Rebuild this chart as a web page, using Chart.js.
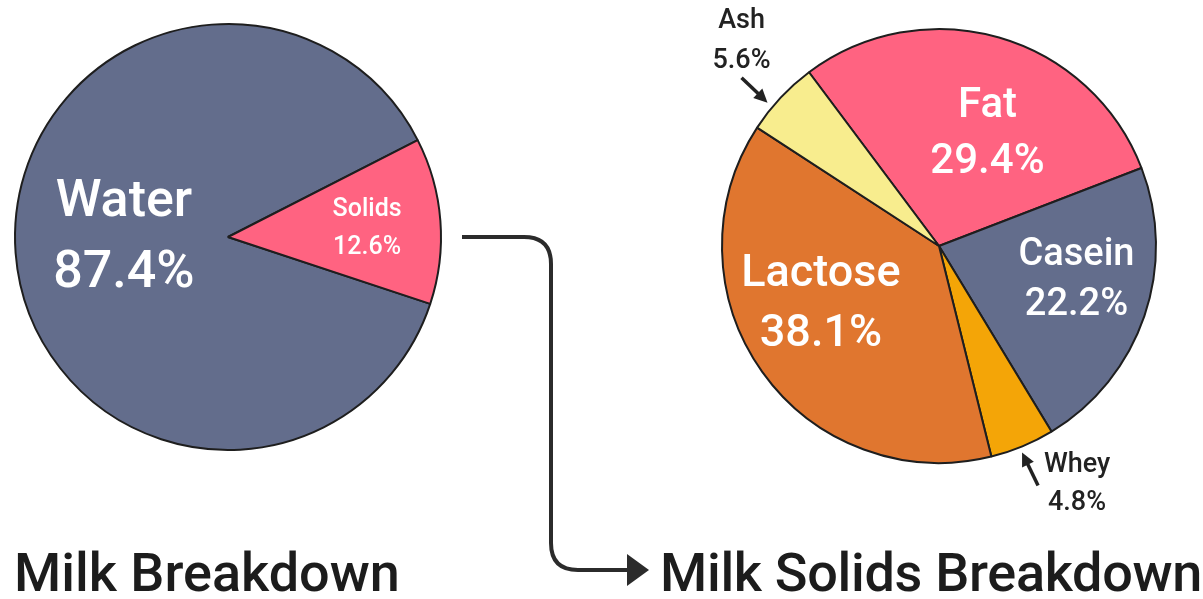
<!DOCTYPE html>
<html>
<head>
<meta charset="utf-8">
<script src="https://cdn.jsdelivr.net/npm/chart.js@4.4.1/dist/chart.umd.min.js"></script>
<style>
  html, body { margin: 0; padding: 0; background: #fff; }
  body { width: 1203px; height: 599px; position: relative; overflow: hidden; font-family: Roboto, sans-serif; }
  .box { position: absolute; }
  .title { position: absolute; font: 500 54px Roboto, sans-serif; line-height: 54px; color: #1c1c1c; white-space: nowrap; }
  svg { position: absolute; left: 0; top: 0; }
</style>
</head>
<body>
<div class="box" style="left:0;top:0;width:460px;height:530px"><canvas id="milk"></canvas></div>
<div class="box" style="left:690px;top:0;width:513px;height:530px"><canvas id="solids"></canvas></div>

<svg width="1203" height="599">
  <path d="M462 237 H524 Q551 237 551 264 V543 Q551 570 578 570 H630" fill="none" stroke="#2b2b2b" stroke-width="4"/>
  <polygon points="627,554 649,570 627,586" fill="#2b2b2b"/>
</svg>

<div class="title" style="left:14px;top:546px">Milk Breakdown</div>
<div class="title" style="left:660px;top:546px;letter-spacing:-0.3px">Milk Solids Breakdown</div>

<script>
// whole milk
const milkParts = ['Water', 'Solids'];
const milkShare = [87.4, 12.6];

// what the solids are made of
const solidParts = ['Fat', 'Casein', 'Whey', 'Lactose', 'Ash'];
const solidShare = [29.4, 22.2, 4.8, 38.1, 5.6];

const SLATE = '#636d8c';
const PINK = '#ff6381';

// writes name + percent on each slice; outside ones get a little arrow
const sliceLabels = {
  id: 'sliceLabels',
  afterDatasetsDraw(chart, args, opts) {
    const ctx = chart.ctx;
    const values = chart.data.datasets[0].data;
    chart.getDatasetMeta(0).data.forEach((arc, i) => {
      const p = opts.place[i];
      const a = arc.getProps(['x', 'y', 'startAngle', 'endAngle', 'outerRadius'], true);
      const mid = (a.startAngle + a.endAngle) / 2;
      const lx = a.x + Math.cos(mid) * a.outerRadius * p.r + p.dx;
      const ly = a.y + Math.sin(mid) * a.outerRadius * p.r + p.dy;

      ctx.save();
      ctx.fillStyle = p.color || '#fff';
      ctx.font = (p.weight || 500) + ' ' + p.size + 'px Roboto, sans-serif';
      ctx.textAlign = 'center';
      ctx.textBaseline = 'middle';
      ctx.fillText(chart.data.labels[i], lx, ly - p.gap / 2);
      ctx.fillText(values[i].toFixed(1) + '%', lx, ly + p.gap / 2);

      if (p.arrow) {
        const [tx, ty, hx, hy] = p.arrow;
        const x0 = lx + tx, y0 = ly + ty, x1 = lx + hx, y1 = ly + hy;
        const ang = Math.atan2(y1 - y0, x1 - x0);
        const head = 15;
        ctx.strokeStyle = ctx.fillStyle;
        ctx.lineWidth = 3.5;
        ctx.beginPath();
        ctx.moveTo(x0, y0);
        ctx.lineTo(x1 - Math.cos(ang) * head * 0.8, y1 - Math.sin(ang) * head * 0.8);
        ctx.stroke();
        ctx.beginPath();
        ctx.moveTo(x1, y1);
        ctx.lineTo(x1 - Math.cos(ang - 0.45) * head, y1 - Math.sin(ang - 0.45) * head);
        ctx.lineTo(x1 - Math.cos(ang + 0.45) * head, y1 - Math.sin(ang + 0.45) * head);
        ctx.closePath();
        ctx.fill();
      }
      ctx.restore();
    });
  }
};

function pie(id, labels, data, colors, rotation, padding, place) {
  return new Chart(document.getElementById(id), {
    type: 'pie',
    data: {
      labels: labels,
      datasets: [{
        data: data,
        backgroundColor: colors,
        borderColor: '#1e1e1e',
        borderWidth: 2
      }]
    },
    options: {
      responsive: true,
      maintainAspectRatio: false,
      animation: false,
      rotation: rotation,
      layout: { padding: padding },
      plugins: {
        legend: { display: false },
        tooltip: { enabled: false },
        sliceLabels: { place: place }
      }
    },
    plugins: [sliceLabels]
  });
}

pie('milk', milkParts, milkShare, [SLATE, PINK], 108.3,
  { left: 14, top: 23, right: 18, bottom: 79 },
  [
    { r: 0.49, dx: 0, dy: -6, size: 52, gap: 71 },
    { r: 0.655, dx: 0, dy: 2, size: 25, gap: 38 }
  ]);

pie('solids', solidParts, solidShare, [PINK, SLATE, '#f4a507', '#e0762f', '#f8ed8e'], -36.8,
  { left: 31, top: 28, right: 46, bottom: 66 },
  [
    { r: 0.574, dx: 14, dy: 8, size: 42, gap: 56 },
    { r: 0.65, dx: 4, dy: -11, size: 38, gap: 50 },
    { r: 1.26, dx: 33, dy: -14, size: 27, gap: 38, color: '#222', weight: 500, arrow: [-39, 1, -55, -32] },
    { r: 0.6, dx: -12, dy: -17, size: 45, gap: 60 },
    { r: 1.31, dx: 10, dy: -10, size: 27, gap: 40, color: '#222', weight: 500, arrow: [0, 36, 26, 61] }
  ]);
</script>
</body>
</html>
